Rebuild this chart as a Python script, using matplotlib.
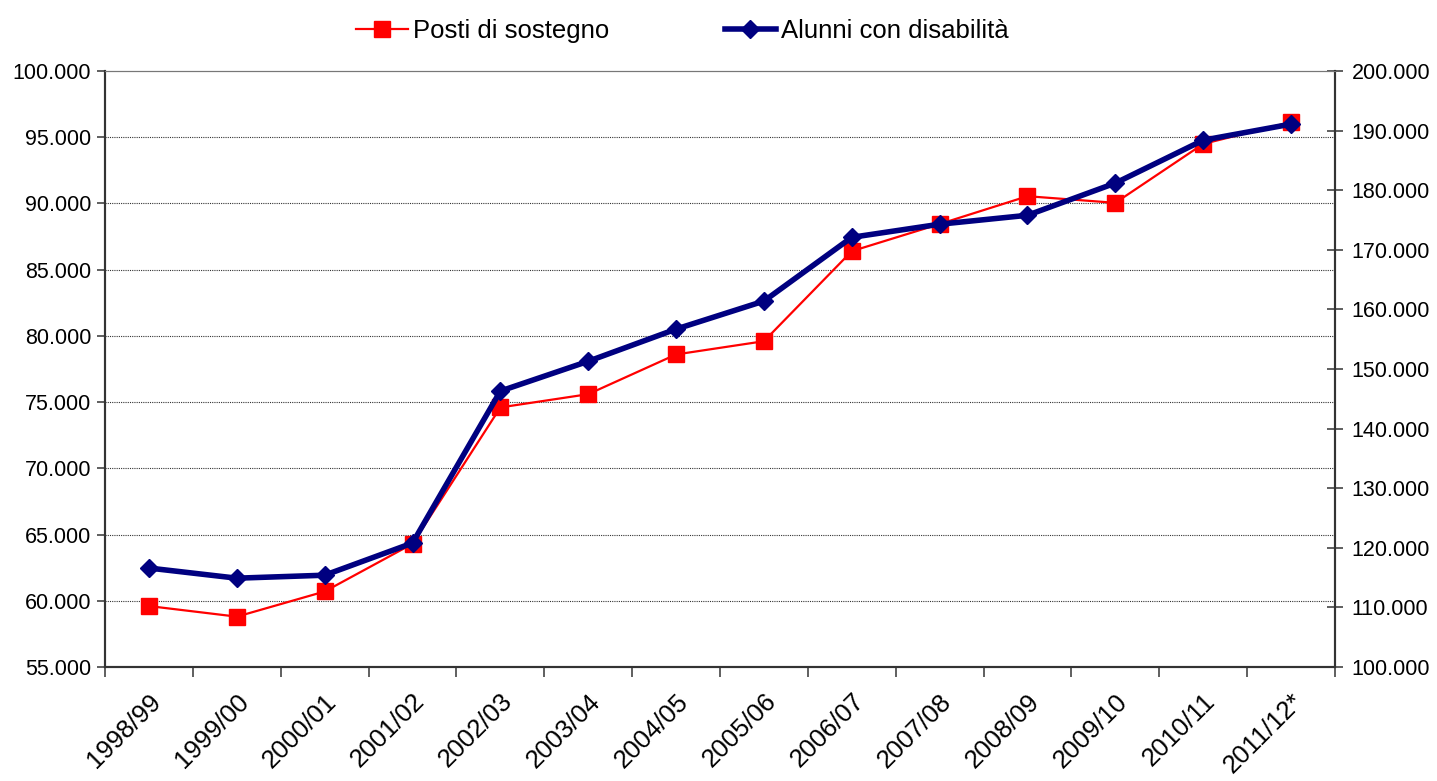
import matplotlib.pyplot as plt
import matplotlib.ticker as mticker
import numpy as np

plt.rcParams['font.family'] = ['Liberation Sans', 'DejaVu Sans']

anni = ["1998/99", "1999/00", "2000/01", "2001/02", "2002/03", "2003/04", "2004/05",
        "2005/06", "2006/07", "2007/08", "2008/09", "2009/10", "2010/11", "2011/12*"]
posti = [59600, 58800, 60700, 64300, 74600, 75600, 78600,
         79600, 86400, 88450, 90550, 90050, 94500, 96150]
alunni = [116600, 114900, 115400, 120800, 146300, 151300, 156700,
          161400, 172100, 174300, 175800, 181200, 188400, 191100]


def fmt_it(v, pos):
    return "{:,.0f}".format(v).replace(",", ".")


fig = plt.figure(figsize=(14.37, 7.81), dpi=100)
ax = fig.add_axes([0.0731, 0.146, 0.8559, 0.763])
ax2 = ax.twinx()

x = np.arange(len(anni))
l1, = ax.plot(x, posti, color="#ff0000", lw=1.6, marker="s", ms=11,
              markeredgecolor="#ff0000", zorder=3, label="Posti di sostegno")
l2, = ax2.plot(x, alunni, color="#000080", lw=4, marker="D", ms=9,
               markeredgecolor="#000080", zorder=4, label="Alunni con disabilità")

ax.set_xlim(-0.5, len(anni) - 0.5)
ax.set_ylim(55000, 100000)
ax2.set_ylim(100000, 200000)
ax.yaxis.set_major_locator(mticker.MultipleLocator(5000))
ax2.yaxis.set_major_locator(mticker.MultipleLocator(10000))
ax.yaxis.set_major_formatter(mticker.FuncFormatter(fmt_it))
ax2.yaxis.set_major_formatter(mticker.FuncFormatter(fmt_it))

# grid lines at left axis ticks
for v in range(60000, 100000, 5000):
    ax.axhline(v, color="#333333", lw=0.8, ls=(0, (1, 1)), zorder=1)

# category labels centred, ticks on the boundaries
ax.set_xticks(x)
ax.set_xticklabels(anni, rotation=45, ha="right", rotation_mode="anchor", fontsize=18.5)
ax.tick_params(axis="x", which="major", length=0, pad=16)
ax.set_xticks(np.arange(-0.5, len(anni), 1), minor=True)
ax.tick_params(axis="x", which="minor", length=7, width=1.2, color="#444444", direction="out")

ax.tick_params(axis="y", length=6, width=1.2, color="#444444", labelsize=15.5, pad=4)
ax2.tick_params(axis="y", length=12, width=1.2, color="#444444", direction="inout",
                labelsize=15.5, pad=6)

for a in (ax, ax2):
    for s in ("left", "right", "bottom"):
        a.spines[s].set_color("#333333")
        a.spines[s].set_linewidth(1.5)
    a.spines["top"].set_color("#777777")
    a.spines["top"].set_linewidth(0.8)

leg = fig.legend(handles=[l1, l2], loc="upper center", bbox_to_anchor=(0.475, 1.005),
                 ncol=2, frameon=False, fontsize=18.5, columnspacing=4.5,
                 handlelength=2.0, handletextpad=0.2)

fig.savefig("out.png", dpi=100)
